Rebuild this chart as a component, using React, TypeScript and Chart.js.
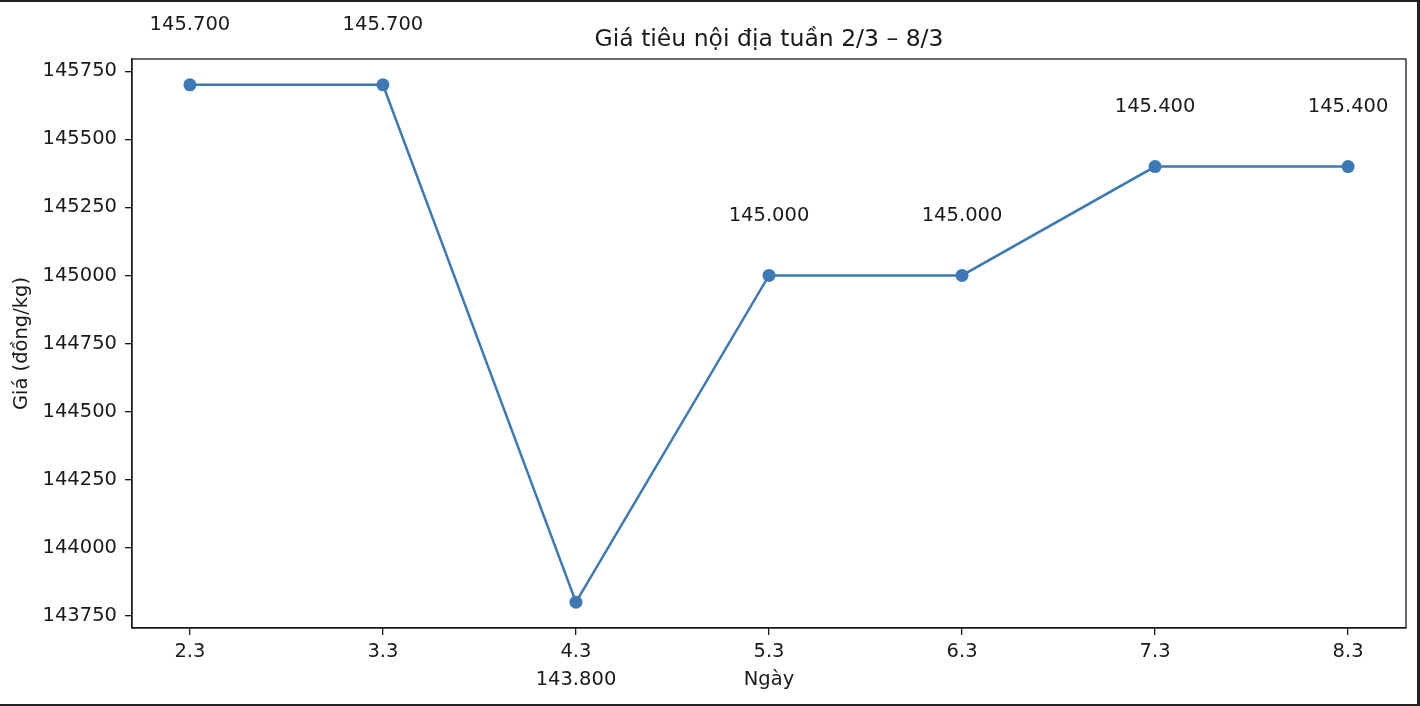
import React, { useEffect, useRef } from "react";
import { Chart, registerables } from "chart.js";

Chart.register(...registerables);

const categories = ["2.3", "3.3", "4.3", "5.3", "6.3", "7.3", "8.3"];
const prices = [145700, 145700, 143800, 145000, 145000, 145400, 145400];
const yTicks = [143750, 144000, 144250, 144500, 144750, 145000, 145250, 145500, 145750];
const titleText = "Giá tiêu nội địa tuần 2/3 – 8/3";
const xLabel = "Ngày";
const yLabel = "Giá (đồng/kg)";

const FONT = "'DejaVu Sans', sans-serif";
const TICK_SIZE = 19.5;
const TITLE_SIZE = 23.5;
const LINE_COLOR = "#3d79b4";
const INK = "#1a1a1a";

function fmtThousands(v: number): string {
  const s = String(Math.round(v));
  return s.replace(/\B(?=(\d{3})+(?!\d))/g, ".");
}

const overlay = {
  id: "overlay",
  afterDraw(chart: any) {
    const { ctx, chartArea } = chart;
    const xs = chart.scales.x;
    const ys = chart.scales.y;
    ctx.save();
    ctx.strokeStyle = INK;
    ctx.lineWidth = 1.3;
    ctx.strokeRect(chartArea.left, chartArea.top, chartArea.right - chartArea.left, chartArea.bottom - chartArea.top);
    ctx.fillStyle = INK;
    ctx.textAlign = "center";
    ctx.textBaseline = "middle";
    ctx.font = `${TITLE_SIZE}px ${FONT}`;
    const cx = (chartArea.left + chartArea.right) / 2;
    ctx.fillText(titleText, cx, chartArea.top - 19);
    ctx.font = `${TICK_SIZE}px ${FONT}`;
    ctx.fillText(xLabel, cx, chartArea.bottom + 52);
    ctx.save();
    ctx.translate(22, (chartArea.top + chartArea.bottom) / 2);
    ctx.rotate(-Math.PI / 2);
    ctx.fillText(yLabel, 0, 0);
    ctx.restore();
    prices.forEach((v, i) => {
      const px = xs.getPixelForValue(i);
      const py = ys.getPixelForValue(v);
      const off = i > 0 && i < prices.length - 1 && v < prices[i - 1] && v < prices[i + 1] ? 78 : -60;
      ctx.fillText(fmtThousands(v), px, py + off);
    });
    ctx.restore();
  },
};

export default function App() {
  const ref = useRef<HTMLCanvasElement | null>(null);
  useEffect(() => {
    document.body.style.margin = "0";
    const c = ref.current;
    if (!c) return;
    const chart = new Chart(c, {
      type: "line",
      data: {
        datasets: [
          {
            data: prices.map((v, i) => ({ x: i, y: v })),
            borderColor: LINE_COLOR,
            backgroundColor: LINE_COLOR,
            borderWidth: 2.5,
            pointRadius: 6.5,
            pointBorderWidth: 0,
            pointBackgroundColor: LINE_COLOR,
            tension: 0,
            fill: false,
          },
        ],
      },
      options: {
        animation: false,
        responsive: false,
        devicePixelRatio: 1,
        layout: { padding: { left: 0, top: 57, right: 11, bottom: 0 } },
        plugins: { legend: { display: false }, title: { display: false }, tooltip: { enabled: false } },
        scales: {
          x: {
            type: "linear",
            min: -0.3,
            max: 6.3,
            afterBuildTicks: (s: any) => {
              s.ticks = categories.map((_, i) => ({ value: i }));
            },
            afterFit: (s: any) => {
              s.height = 76;
            },
            ticks: {
              callback: (v: any) => categories[v as number] ?? "",
              font: { family: FONT, size: TICK_SIZE },
              color: INK,
              padding: 5,
              maxRotation: 0,
              autoSkip: false,
            },
            grid: { drawOnChartArea: false, drawTicks: true, tickLength: 7, color: INK, lineWidth: 1.3 },
            border: { display: true, color: INK, width: 1.3 },
          },
          y: {
            type: "linear",
            min: 143705,
            max: 145795,
            afterBuildTicks: (s: any) => {
              s.ticks = yTicks.map((v) => ({ value: v }));
            },
            afterFit: (s: any) => {
              s.width = 132;
            },
            ticks: {
              callback: (v: any) => String(v),
              font: { family: FONT, size: TICK_SIZE },
              color: INK,
              padding: 8,
            },
            grid: { drawOnChartArea: false, drawTicks: true, tickLength: 7, color: INK, lineWidth: 1.3 },
            border: { display: true, color: INK, width: 1.3 },
          },
        },
      },
      plugins: [overlay],
    });
    return () => chart.destroy();
  }, []);
  return (
    <div
      style={{
        position: "fixed",
        left: 0,
        top: 0,
        width: 1420,
        height: 706,
        background: "#fff",
        boxSizing: "border-box",
        borderTop: "2px solid #222",
        borderRight: "3px solid #222",
        borderBottom: "2px solid #222",
      }}
    >
      <canvas ref={ref} width={1417} height={702} style={{ display: "block" }} />
    </div>
  );
}
